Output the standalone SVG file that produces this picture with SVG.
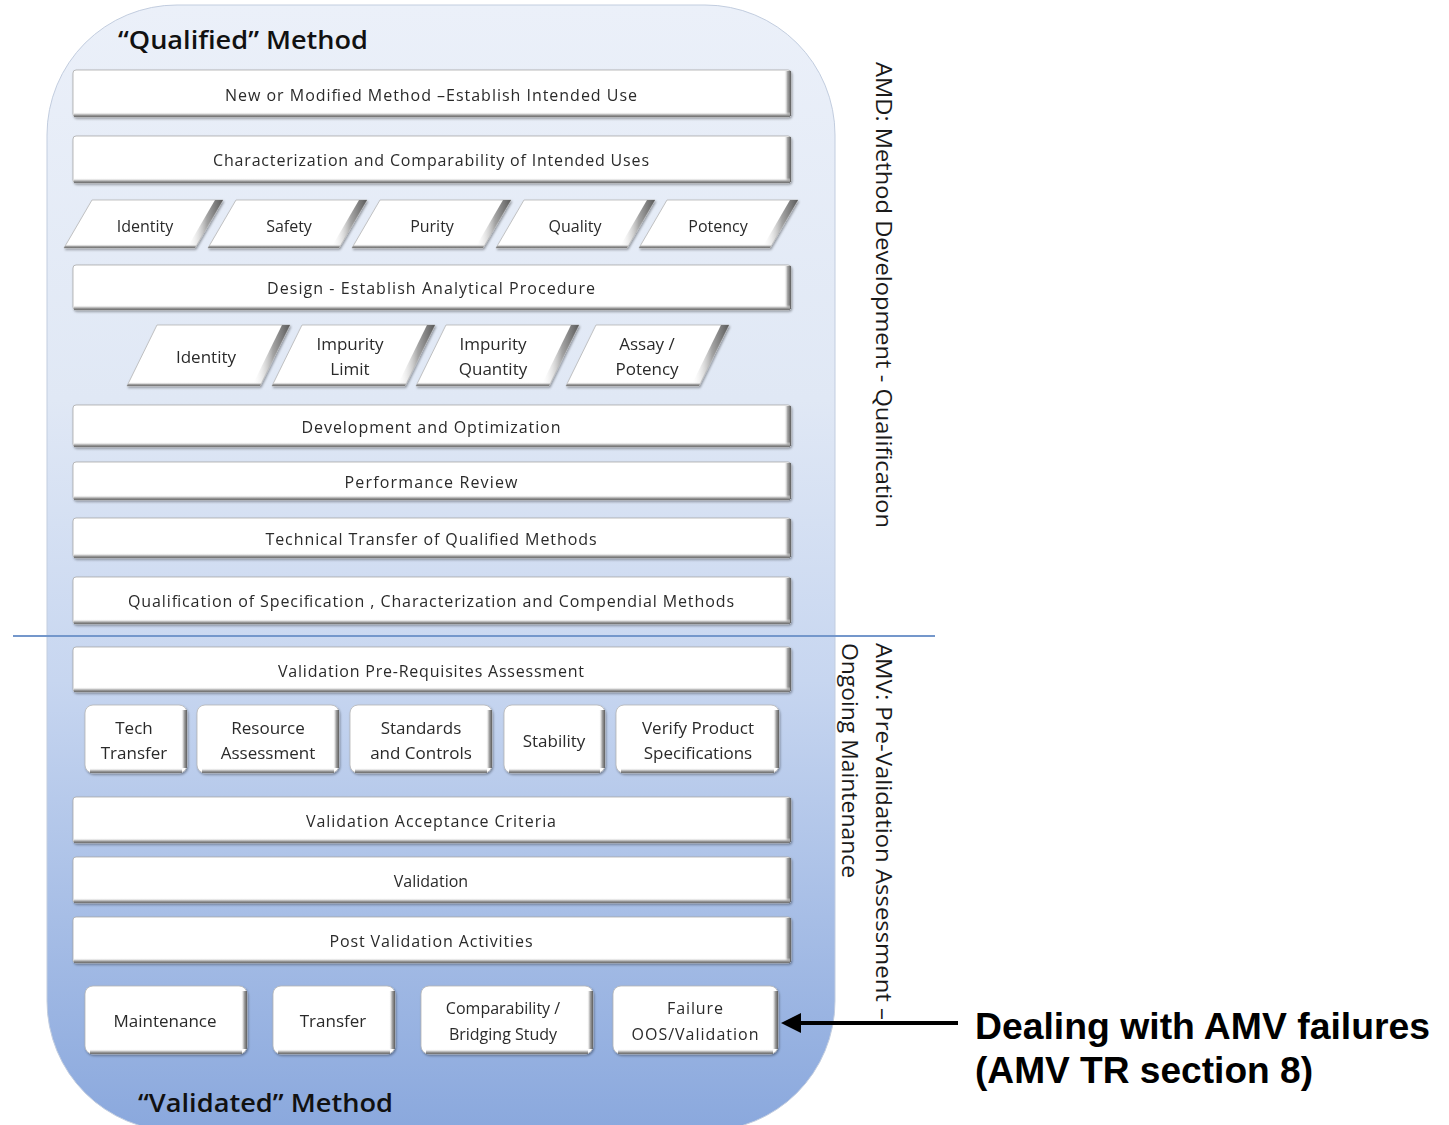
<svg xmlns="http://www.w3.org/2000/svg" width="1449" height="1125" viewBox="0 0 1449 1125">
  <defs>
    <linearGradient id="panelFill" x1="0" y1="0" x2="0" y2="1">
      <stop offset="0" stop-color="#ebf0f9"/>
      <stop offset="0.35" stop-color="#e0e8f5"/>
      <stop offset="0.6" stop-color="#c7d6f0"/>
      <stop offset="1" stop-color="#8aa8dd"/>
    </linearGradient>
    <linearGradient id="bevR" x1="0" y1="0" x2="1" y2="0">
      <stop offset="0" stop-color="#ffffff" stop-opacity="0"/>
      <stop offset="0.5" stop-color="#a8a8a8"/>
      <stop offset="1" stop-color="#5e5e5e"/>
    </linearGradient>
    <linearGradient id="bevB" x1="0" y1="0" x2="0" y2="1">
      <stop offset="0" stop-color="#ffffff" stop-opacity="0"/>
      <stop offset="0.6" stop-color="#a0a0a0"/>
      <stop offset="1" stop-color="#6a6a6a"/>
    </linearGradient>
    <linearGradient id="slantBev" x1="0" y1="0" x2="1" y2="0">
      <stop offset="0" stop-color="#ffffff" stop-opacity="0"/>
      <stop offset="0.55" stop-color="#a4a4a4"/>
      <stop offset="1" stop-color="#5a5a5a"/>
    </linearGradient>
    <filter id="soft" x="-5%" y="-10%" width="110%" height="130%">
      <feDropShadow dx="1" dy="1.5" stdDeviation="1" flood-color="#000" flood-opacity="0.35"/>
    </filter>
  </defs>
  <style>
    .bar{fill:#ffffff;stroke:#a9a9a9;stroke-width:0.8}
    .box{fill:#ffffff;stroke:#b5b5b5;stroke-width:0.8}
    .para{fill:#ffffff;stroke:#b5b5b5;stroke-width:0.8}
    .bevr{fill:url(#bevR)}
    .bevb{fill:url(#bevB)}
    .slant{fill:url(#slantBev)}
    .lbl{font-family:"Open Sans","Noto Sans","DejaVu Sans",sans-serif;font-size:16px;fill:#2a2a2a;text-anchor:middle}
    .big{font-size:17px}
    .title{font-family:"Open Sans","Noto Sans",sans-serif;font-size:25px;font-weight:600;fill:#111}
    .side{font-family:"Open Sans","Noto Sans",sans-serif;font-size:21px;fill:#1a1a1a}
    .note{font-family:"Liberation Sans",Arial,sans-serif;font-size:37px;font-weight:bold;fill:#000}
  </style>

  <!-- background panel and stage divider -->
  <g id="panel">
    <rect x="47" y="5" width="788" height="1126" rx="130" ry="130" fill="url(#panelFill)" stroke="#c2cddf" stroke-width="1"/>
    <line x1="13" y1="636" x2="935" y2="636" stroke="#7497cb" stroke-width="2"/>
  </g>

  <text class="title" x="118" y="49" textLength="250" lengthAdjust="spacingAndGlyphs">“Qualified” Method</text>
  <text class="title" x="138" y="1112" textLength="255" lengthAdjust="spacingAndGlyphs">“Validated” Method</text>

  <!-- full-width stage bars -->
  <g id="bar-new" filter="url(#soft)">
    <rect class="bar" x="73" y="70" width="718" height="47" rx="3"/>
    <rect class="bevr" x="784" y="71" width="7" height="45"/>
    <rect class="bevb" x="74" y="112" width="716" height="5"/>
    <text class="lbl" x="431" y="101" textLength="412" lengthAdjust="spacing">New or Modified Method –Establish Intended Use</text>
  </g>
  <g id="bar-char" filter="url(#soft)">
    <rect class="bar" x="73" y="136" width="718" height="47" rx="3"/>
    <rect class="bevr" x="784" y="137" width="7" height="45"/>
    <rect class="bevb" x="74" y="178" width="716" height="5"/>
    <text class="lbl" x="431" y="166" textLength="436" lengthAdjust="spacing">Characterization and Comparability of Intended Uses</text>
  </g>

  <!-- intended-use categories -->
  <g id="use-identity" filter="url(#soft)">
    <polygon class="para" points="92,200 223,200 195,248 64,248"/>
    <polygon class="slant" points="215,200 223,200 195,248 187,248"/>
    <polygon class="bevb" points="66,244 197,244 195,248 64,248"/>
    <text class="lbl" x="145" y="232">Identity</text>
  </g>
  <g id="use-safety" filter="url(#soft)">
    <polygon class="para" points="236,200 367,200 339,248 208,248"/>
    <polygon class="slant" points="359,200 367,200 339,248 331,248"/>
    <polygon class="bevb" points="210,244 341,244 339,248 208,248"/>
    <text class="lbl" x="289" y="232">Safety</text>
  </g>
  <g id="use-purity" filter="url(#soft)">
    <polygon class="para" points="380,200 511,200 483,248 352,248"/>
    <polygon class="slant" points="503,200 511,200 483,248 475,248"/>
    <polygon class="bevb" points="354,244 485,244 483,248 352,248"/>
    <text class="lbl" x="432" y="232">Purity</text>
  </g>
  <g id="use-quality" filter="url(#soft)">
    <polygon class="para" points="524,200 655,200 627,248 496,248"/>
    <polygon class="slant" points="647,200 655,200 627,248 619,248"/>
    <polygon class="bevb" points="498,244 629,244 627,248 496,248"/>
    <text class="lbl" x="575" y="232">Quality</text>
  </g>
  <g id="use-potency" filter="url(#soft)">
    <polygon class="para" points="667,200 798,200 770,248 639,248"/>
    <polygon class="slant" points="790,200 798,200 770,248 762,248"/>
    <polygon class="bevb" points="641,244 772,244 770,248 639,248"/>
    <text class="lbl" x="718" y="232">Potency</text>
  </g>

  <g id="bar-design" filter="url(#soft)">
    <rect class="bar" x="73" y="265" width="718" height="45" rx="3"/>
    <rect class="bevr" x="784" y="266" width="7" height="43"/>
    <rect class="bevb" x="74" y="305" width="716" height="5"/>
    <text class="lbl" x="431" y="294" textLength="328" lengthAdjust="spacing">Design  - Establish  Analytical Procedure</text>
  </g>

  <!-- procedure types -->
  <g id="proc-identity" filter="url(#soft)">
    <polygon class="para" points="157,325 290,325 260,386 127,386"/>
    <polygon class="slant" points="282,325 290,325 260,386 252,386"/>
    <polygon class="bevb" points="129,382 262,382 260,386 127,386"/>
    <text class="lbl big" x="206" y="363">Identity</text>
  </g>
  <g id="proc-limit" filter="url(#soft)">
    <polygon class="para" points="302,325 435,325 405,386 272,386"/>
    <polygon class="slant" points="427,325 435,325 405,386 397,386"/>
    <polygon class="bevb" points="274,382 407,382 405,386 272,386"/>
    <text class="lbl big" x="350" y="350">Impurity</text>
    <text class="lbl big" x="350" y="375">Limit</text>
  </g>
  <g id="proc-quantity" filter="url(#soft)">
    <polygon class="para" points="446,325 579,325 549,386 416,386"/>
    <polygon class="slant" points="571,325 579,325 549,386 541,386"/>
    <polygon class="bevb" points="418,382 551,382 549,386 416,386"/>
    <text class="lbl big" x="493" y="350">Impurity</text>
    <text class="lbl big" x="493" y="375">Quantity</text>
  </g>
  <g id="proc-assay" filter="url(#soft)">
    <polygon class="para" points="596,325 729,325 699,386 566,386"/>
    <polygon class="slant" points="721,325 729,325 699,386 691,386"/>
    <polygon class="bevb" points="568,382 701,382 699,386 566,386"/>
    <text class="lbl big" x="647" y="350">Assay /</text>
    <text class="lbl big" x="647" y="375">Potency</text>
  </g>

  <g id="bar-dev" filter="url(#soft)">
    <rect class="bar" x="73" y="405" width="718" height="42" rx="3"/>
    <rect class="bevr" x="784" y="406" width="7" height="40"/>
    <rect class="bevb" x="74" y="442" width="716" height="5"/>
    <text class="lbl" x="431" y="433" textLength="259" lengthAdjust="spacing">Development and Optimization</text>
  </g>
  <g id="bar-perf" filter="url(#soft)">
    <rect class="bar" x="73" y="462" width="718" height="38" rx="3"/>
    <rect class="bevr" x="784" y="463" width="7" height="36"/>
    <rect class="bevb" x="74" y="495" width="716" height="5"/>
    <text class="lbl" x="431" y="488" textLength="173" lengthAdjust="spacing">Performance Review</text>
  </g>
  <g id="bar-tt" filter="url(#soft)">
    <rect class="bar" x="73" y="518" width="718" height="40" rx="3"/>
    <rect class="bevr" x="784" y="519" width="7" height="38"/>
    <rect class="bevb" x="74" y="553" width="716" height="5"/>
    <text class="lbl" x="431" y="545" textLength="331" lengthAdjust="spacing">Technical Transfer of Qualified Methods</text>
  </g>
  <g id="bar-qual" filter="url(#soft)">
    <rect class="bar" x="73" y="577" width="718" height="47" rx="3"/>
    <rect class="bevr" x="784" y="578" width="7" height="45"/>
    <rect class="bevb" x="74" y="619" width="716" height="5"/>
    <text class="lbl" x="431" y="607" textLength="606" lengthAdjust="spacing">Qualification of Specification , Characterization and Compendial Methods</text>
  </g>

  <g id="bar-prereq" filter="url(#soft)">
    <rect class="bar" x="73" y="647" width="718" height="45" rx="3"/>
    <rect class="bevr" x="784" y="648" width="7" height="43"/>
    <rect class="bevb" x="74" y="687" width="716" height="5"/>
    <text class="lbl" x="431" y="677" textLength="306" lengthAdjust="spacing">Validation Pre-Requisites Assessment</text>
  </g>

  <!-- pre-validation assessment items -->
  <g id="pre-tech" filter="url(#soft)">
    <rect class="box" x="85" y="705" width="102" height="68" rx="8"/>
    <rect class="bevr" x="181" y="710" width="6" height="58"/>
    <rect class="bevb" x="90" y="768" width="92" height="5"/>
    <text class="lbl big" x="134" y="734">Tech</text>
    <text class="lbl big" x="134" y="759">Transfer</text>
  </g>
  <g id="pre-resource" filter="url(#soft)">
    <rect class="box" x="197" y="705" width="142" height="68" rx="8"/>
    <rect class="bevr" x="333" y="710" width="6" height="58"/>
    <rect class="bevb" x="202" y="768" width="132" height="5"/>
    <text class="lbl big" x="268" y="734">Resource</text>
    <text class="lbl big" x="268" y="759">Assessment</text>
  </g>
  <g id="pre-standards" filter="url(#soft)">
    <rect class="box" x="350" y="705" width="142" height="68" rx="8"/>
    <rect class="bevr" x="486" y="710" width="6" height="58"/>
    <rect class="bevb" x="355" y="768" width="132" height="5"/>
    <text class="lbl big" x="421" y="734">Standards</text>
    <text class="lbl big" x="421" y="759">and Controls</text>
  </g>
  <g id="pre-stability" filter="url(#soft)">
    <rect class="box" x="504" y="705" width="101" height="68" rx="8"/>
    <rect class="bevr" x="599" y="710" width="6" height="58"/>
    <rect class="bevb" x="509" y="768" width="91" height="5"/>
    <text class="lbl big" x="554" y="747">Stability</text>
  </g>
  <g id="pre-verify" filter="url(#soft)">
    <rect class="box" x="616" y="705" width="163" height="68" rx="8"/>
    <rect class="bevr" x="773" y="710" width="6" height="58"/>
    <rect class="bevb" x="621" y="768" width="153" height="5"/>
    <text class="lbl big" x="698" y="734">Verify Product</text>
    <text class="lbl big" x="698" y="759">Specifications</text>
  </g>

  <g id="bar-criteria" filter="url(#soft)">
    <rect class="bar" x="73" y="797" width="718" height="46" rx="3"/>
    <rect class="bevr" x="784" y="798" width="7" height="44"/>
    <rect class="bevb" x="74" y="838" width="716" height="5"/>
    <text class="lbl" x="431" y="827" textLength="250" lengthAdjust="spacing">Validation Acceptance Criteria</text>
  </g>
  <g id="bar-validation" filter="url(#soft)">
    <rect class="bar" x="73" y="857" width="718" height="46" rx="3"/>
    <rect class="bevr" x="784" y="858" width="7" height="44"/>
    <rect class="bevb" x="74" y="898" width="716" height="5"/>
    <text class="lbl" x="431" y="887">Validation</text>
  </g>
  <g id="bar-post" filter="url(#soft)">
    <rect class="bar" x="73" y="917" width="718" height="46" rx="3"/>
    <rect class="bevr" x="784" y="918" width="7" height="44"/>
    <rect class="bevb" x="74" y="958" width="716" height="5"/>
    <text class="lbl" x="431" y="947" textLength="203" lengthAdjust="spacing">Post Validation Activities</text>
  </g>

  <!-- post-validation activities -->
  <g id="post-maint" filter="url(#soft)">
    <rect class="box" x="85" y="986" width="162" height="68" rx="8"/>
    <rect class="bevr" x="241" y="991" width="6" height="58"/>
    <rect class="bevb" x="90" y="1049" width="152" height="5"/>
    <text class="lbl big" x="165" y="1027">Maintenance</text>
  </g>
  <g id="post-transfer" filter="url(#soft)">
    <rect class="box" x="273" y="986" width="122" height="68" rx="8"/>
    <rect class="bevr" x="389" y="991" width="6" height="58"/>
    <rect class="bevb" x="278" y="1049" width="112" height="5"/>
    <text class="lbl big" x="333" y="1027">Transfer</text>
  </g>
  <g id="post-compare" filter="url(#soft)">
    <rect class="box" x="421" y="986" width="172" height="68" rx="8"/>
    <rect class="bevr" x="587" y="991" width="6" height="58"/>
    <rect class="bevb" x="426" y="1049" width="162" height="5"/>
    <text class="lbl" x="503" y="1014">Comparability /</text>
    <text class="lbl" x="503" y="1040">Bridging Study</text>
  </g>
  <g id="post-failure" filter="url(#soft)">
    <rect class="box" x="613" y="986" width="165" height="68" rx="8"/>
    <rect class="bevr" x="772" y="991" width="6" height="58"/>
    <rect class="bevb" x="618" y="1049" width="155" height="5"/>
    <text class="lbl" x="695" y="1014" textLength="56" lengthAdjust="spacing">Failure</text>
    <text class="lbl" x="695" y="1040" textLength="127" lengthAdjust="spacing">OOS/Validation</text>
  </g>

  <!-- stage labels along the right edge -->
  <g id="stage-labels">
    <text class="side" transform="translate(876,62) rotate(90)" textLength="466" lengthAdjust="spacingAndGlyphs">AMD: Method  Development - Qualification</text>
    <text class="side" transform="translate(876,643) rotate(90)" textLength="377" lengthAdjust="spacingAndGlyphs">AMV:  Pre-Validation Assessment –</text>
    <text class="side" transform="translate(842,643) rotate(90)" textLength="235" lengthAdjust="spacingAndGlyphs">Ongoing Maintenance</text>
  </g>

  <!-- callout -->
  <g id="connectors">
    <line x1="958" y1="1023" x2="796" y2="1023" stroke="#000" stroke-width="4"/>
    <polygon points="781,1023 801,1013 801,1033" fill="#000"/>
  </g>
  <g id="callout">
    <text class="note" x="975" y="1039" textLength="455" lengthAdjust="spacingAndGlyphs">Dealing with AMV failures</text>
    <text class="note" x="975" y="1083" textLength="338" lengthAdjust="spacingAndGlyphs">(AMV TR section 8)</text>
  </g>
</svg>
